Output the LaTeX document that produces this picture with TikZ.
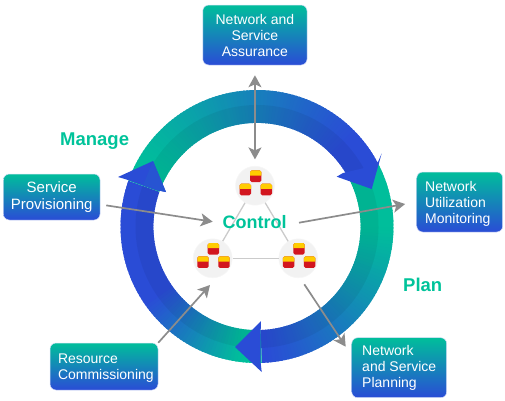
\documentclass[tikz,border=0pt]{standalone}
\usepackage{fontspec}
\setmainfont{Liberation Sans}
\usetikzlibrary{arrows.meta}
\definecolor{ringteal}{HTML}{00BE9B}
\definecolor{ringblue}{HTML}{2A4CD6}
\definecolor{labelteal}{HTML}{00C39A}
\definecolor{linkgrey}{HTML}{8C8C8C}
\definecolor{hubline}{HTML}{CBCBCB}
\definecolor{hubfill}{HTML}{F2F2F2}
\definecolor{iconyellow}{HTML}{FFCC00}
\definecolor{iconred}{HTML}{D2161F}
\tikzset{
  infobox/.style={rectangle,rounded corners=6pt,top color=ringteal,bottom color=ringblue,
    draw=ringblue!18,line width=0.5pt,text=white,inner sep=0pt,align=#1,
    font=\fontsize{14}{16}\selectfont},
  infobox/.default=center,
  hub/.style={circle,fill=hubfill,draw=hubfill!60,line width=0.6pt,minimum size=39pt,inner sep=0pt},
  ringlabel/.style={text=labelteal,font=\fontsize{18.5}{20}\selectfont\bfseries,inner sep=0pt},
  hubedge/.style={draw=hubline,line width=1.3pt},
  flow/.style={draw=linkgrey,line width=1.7pt,-{Stealth[length=12pt,width=13pt,inset=3pt]}},
  flowboth/.style={draw=linkgrey,line width=1.7pt,{Stealth[length=12pt,width=13pt,inset=3pt]}-{Stealth[length=12pt,width=13pt,inset=3pt]}},
  servers/.pic={
    \foreach \dx/\dy in {0.7/-9.5,-9.7/3.8,11.3/3.8}{
      \fill[iconred,rounded corners=1.6pt] (\dx-5.7,\dy-5.8) rectangle (\dx+5.7,\dy+5.8);
      \fill[iconyellow,rounded corners=1.6pt] (\dx-5.7,\dy-0.6) -- (\dx-5.7,\dy-5.8) -- (\dx+5.7,\dy-5.8) [sharp corners] -- (\dx+5.7,\dy-0.6) -- cycle;
    }
  }
}
% fan of small wedges: #1,#2 screen angles; #3..#6 gradient axis from teal to blue
\newcommand{\ringfan}[6]{%
  \pgfmathsetmacro{\fanN}{int(ceil((#2-#1)/1.5))}%
  \pgfmathsetmacro{\axX}{(#5-#3)/100}%
  \pgfmathsetmacro{\axY}{(#6-#4)/100}%
  \pgfmathsetmacro{\axL}{\axX*\axX+\axY*\axY}%
  \foreach \i in {1,...,\fanN}{%
    \pgfmathsetmacro{\angA}{#1+(\i-1)*(#2-#1)/\fanN}%
    \pgfmathsetmacro{\angB}{min(#2,\angA+2.3)}%
    \pgfmathsetmacro{\angM}{\angA+0.75}%
    \pgfmathsetmacro{\px}{(257+120*cos(\angM)-#3)/100}%
    \pgfmathsetmacro{\py}{(226.5+120*sin(\angM)-#4)/100}%
    \pgfmathsetmacro{\tv}{100*max(0,min(1,(\px*\axX+\py*\axY)/\axL))}%
    \colorlet{fancol}{ringblue!\tv!ringteal}%
    \fill[fancol] ([shift={(257,226.5)}]\angA:136.5) arc[start angle=\angA,end angle=\angB,radius=136.5]
      -- ([shift={(257,226.5)}]\angB:103.6) arc[start angle=\angB,end angle=\angA,radius=103.6] -- cycle;
  }%
  \fill[black,opacity=0.055] ([shift={(257,226.5)}]#1:121.5) arc[start angle=#1,end angle=#2,radius=121.5]
      -- ([shift={(257,226.5)}]#2:103.6) arc[start angle=#2,end angle=#1,radius=103.6] -- cycle;
}
\begin{document}
\begin{tikzpicture}[x=1pt,y=-1pt]
\useasboundingbox (0,0) rectangle (505,400);
% ring
\ringfan{332}{448}{385}{235}{275}{355}
\ringfan{88}{199.6}{240}{350}{150}{315}
\ringfan{199.6}{333}{150}{200}{345}{200}
% ring arrowheads
\fill[ringblue] (381.7,153.3) -- (371.7,189) -- (336.7,176.7) -- (343,173) -- (376.7,165) -- cycle;
\fill[ringblue] (235,347) -- (261,321) -- (260.7,330) -- (260.7,363) -- (261.7,372) -- cycle;
\fill[ringblue] (118,177) -- (153,161) -- (166,192) -- (156,190) -- (125,179) -- cycle;
\fill[ringblue!93!ringteal] (153,161) -- (166,192) -- (156,190) -- (143,185.5) -- cycle;
% hubs
\node[hub] (hubtop) at (255,185.7) {};
\node[hub] (hubleft) at (212.7,258.3) {};
\node[hub] (hubright) at (298.3,258.3) {};
\draw[hubedge] (hubtop) -- (hubleft);
\draw[hubedge] (hubtop) -- (hubright);
\draw[hubedge] (hubleft) -- (hubright);
\pic at (hubtop) {servers};
\pic at (hubleft) {servers};
\pic at (hubright) {servers};
% boxes
\node[infobox,minimum width=104.3pt,minimum height=60pt] (assure) at (254.9,35) {\rule{0pt}{12pt}Network and\\Service\\Assurance};
\node[infobox,minimum width=96.7pt,minimum height=46pt,font=\fontsize{15}{16.5}\selectfont] (prov) at (51.7,197) {Service\\Provisioning};
\node[infobox=left,minimum width=86pt,minimum height=60pt] (util) at (459.7,202) {\rule{0pt}{14.4pt}Network\\Utilization\\Monitoring\hspace*{3.7pt}};
\node[infobox=left,minimum width=108pt,minimum height=47pt] (res) at (104,366.5) {\rule{0pt}{13pt}\hspace*{3.7pt}Resource\\\hspace*{3.7pt}Commissioning};
\node[infobox=left,minimum width=95pt,minimum height=60pt] (plan) at (399.2,367.7) {Network\\and Service\\Planning};
% free ends
\coordinate (ctrlin) at (212.7,221.7);
\coordinate (ctrlout) at (299,222.7);
\coordinate (resin) at (210,285);
\coordinate (planout) at (304.3,284.3);
\coordinate (planin) at (345.7,346.7);
% connectors
\draw[flowboth,shorten <=10pt,shorten >=6.5pt] (assure) -- (hubtop);
\draw[flow,shorten <=6pt] (prov) -- (ctrlin);
\draw[flow,shorten >=11.5pt] (ctrlout) -- (util.west);
\draw[flow] (res.north east) -- (resin);
\draw[flow] (planout) -- (planin);
% labels
\node[ringlabel,anchor=base west] (manage) at (60,145) {Manage};
\node[ringlabel,anchor=base west] (planlabel) at (403,291.7) {Plan};
\node[ringlabel,anchor=base west,font=\fontsize{18}{20}\selectfont\bfseries] (control) at (222.5,228) {Control};
\end{tikzpicture}
\end{document}
